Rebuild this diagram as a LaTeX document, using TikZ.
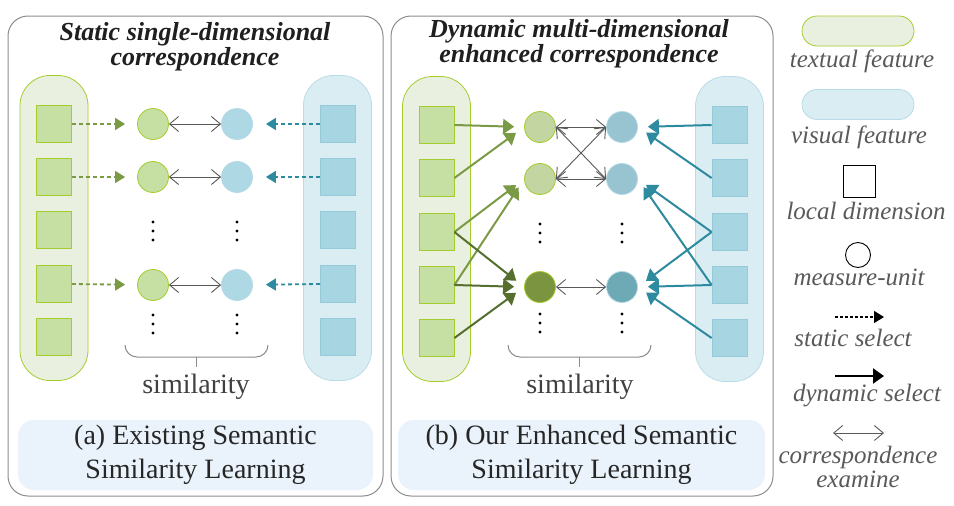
\documentclass[tikz,border=0pt]{standalone}
\usepackage{fontspec}
\setmainfont{LiberationSerif-Regular.ttf}[BoldFont=LiberationSerif-Bold.ttf, ItalicFont=LiberationSerif-Italic.ttf, BoldItalicFont=LiberationSerif-BoldItalic.ttf]
\usetikzlibrary{arrows.meta, positioning}

\definecolor{tcolfill}{HTML}{EAF0E0}
\definecolor{tline}{HTML}{A4CC2C}
\definecolor{tsqfill}{HTML}{C6E0A4}
\definecolor{tunitb}{HTML}{C3D5A0}
\definecolor{tunitdark}{HTML}{7A9440}
\definecolor{tarrc}{HTML}{7A9A45}
\definecolor{tdark}{HTML}{566F2E}
\definecolor{vcolfill}{HTML}{DAEDF3}
\definecolor{vline}{HTML}{B8DDE8}
\definecolor{vsqfill}{HTML}{A7D5E2}
\definecolor{vsqline}{HTML}{94CADA}
\definecolor{vunita}{HTML}{ADD8E4}
\definecolor{vunitb}{HTML}{98C3D0}
\definecolor{vunitdark}{HTML}{6EA9B6}
\definecolor{varrc}{HTML}{2E8A9E}
\definecolor{capfill}{HTML}{EAF3FB}

\newcommand{\dotstack}[2]{\foreach \d in {0,9,18} \fill (#1,#2+\d) circle (1.7pt);}

\begin{document}
\begin{tikzpicture}[x=1pt, y=-1pt,
    panel/.style={draw=black!45, line width=1pt, rounded corners=20pt, minimum width=375pt, minimum height=480pt},
    tcol/.style={draw=tline, fill=tcolfill, line width=0.8pt, rounded corners=30pt, minimum width=68pt, minimum height=305pt},
    vcol/.style={tcol, draw=vline, fill=vcolfill},
    tsq/.style={rectangle, draw=tline, fill=tsqfill, line width=0.8pt, minimum width=35pt, minimum height=37pt},
    vsq/.style={tsq, draw=vsqline, fill=vsqfill},
    tunit/.style={circle, draw=tline, fill=tsqfill, line width=0.8pt, minimum size=31pt, inner sep=0pt},
    vunit/.style={tunit, draw=vsqline!70, fill=vunita},
    sarr/.style={-{Triangle[length=10pt, width=12pt]}, line width=1.8pt, dash pattern=on 4pt off 3pt},
    darr/.style={-{Triangle[length=11pt, width=15pt]}, line width=2pt, shorten >=10pt},
    corr/.style={{Straight Barb[length=9pt, width=15pt]}-{Straight Barb[length=9pt, width=15pt]}, draw=black!65, line width=0.9pt},
    brace/.style={draw=black!45, line width=1pt},
    titletext/.style={font=\fontsize{26}{22}\selectfont\bfseries\itshape, text=black!88, align=center, inner sep=0pt},
    simtext/.style={font=\fontsize{28}{28}\selectfont, text=black!75},
    capbox/.style={fill=capfill, rounded corners=16pt, minimum width=355pt, minimum height=70pt, align=center,
                   font=\fontsize{28}{34}\selectfont, text=black!85},
    legtext/.style={font=\fontsize{25}{24}\selectfont\itshape, text=black!65, align=center, inner sep=0pt}
]
\useasboundingbox (0,0) rectangle (954,506);

\node[panel] (pa) at (195.5,256) {};
\node[panel, minimum width=382pt] (pb) at (582,256) {};

\node[titletext] (tita) at (195,47) {Static single-dimensional\\correspondence};
\node[titletext] (titb) at (579,44) {Dynamic multi-dimensional\\enhanced correspondence};

\node[tcol] (tca) at (54,228) {};
\node[vcol] (vca) at (337.5,228) {};
\node[tcol] (tcb) at (436.5,229) {};
\node[vcol] (vcb) at (729.5,229) {};

\foreach \i/\y in {1/124,2/177,3/230,4/284,5/337} {
  \node[tsq] (ta\i) at (54,\y) {};
  \node[vsq] (va\i) at (338,\y) {};
}
\foreach \i/\y in {1/125,2/178,3/232,4/285,5/338} {
  \node[tsq] (tb\i) at (436.5,\y) {};
  \node[vsq] (vb\i) at (729.5,\y) {};
}

\node[tunit] (tua1) at (153,124) {};
\node[tunit] (tua2) at (153,177) {};
\node[tunit] (tua3) at (153,285) {};
\node[vunit] (vua1) at (237,124) {};
\node[vunit] (vua2) at (237,177) {};
\node[vunit] (vua3) at (237,285) {};

\node[tunit, fill=tunitb] (tub1) at (540,127) {};
\node[tunit, fill=tunitb] (tub2) at (540,179) {};
\node[tunit, fill=tunitdark] (tub3) at (540,287) {};
\node[vunit, fill=vunitb] (vub1) at (622,127) {};
\node[vunit, fill=vunitb] (vub2) at (622,179) {};
\node[vunit, fill=vunitdark] (vub3) at (622,287) {};

\draw[sarr, tarrc, shorten >=12pt] (ta1.east) -- (tua1);
\draw[sarr, tarrc, shorten >=12pt] (ta2.east) -- (tua2);
\draw[sarr, tarrc, shorten >=12pt] (ta4.east) -- (tua3);
\draw[sarr, varrc, shorten >=13pt] (va1.west) -- (vua1);
\draw[sarr, varrc, shorten >=13pt] (va2.west) -- (vua2);
\draw[sarr, varrc, shorten >=13pt] (va4.west) -- (vua3);
\draw[corr] (tua1) -- (vua1);
\draw[corr] (tua2) -- (vua2);
\draw[corr] (tua3) -- (vua3);

\draw[darr, tarrc] (tb1.east) -- (tub1.west);
\draw[darr, tarrc] (tb2.east) -- (tub1.west);
\draw[darr, tarrc] (tb3.east) -- (tub2.west);
\draw[darr, tarrc] (tb4.east) -- (tub2.west);
\draw[darr, tdark] (tb3.east) -- (tub3.west);
\draw[darr, tdark] (tb4.east) -- (tub3.west);
\draw[darr, tdark] (tb5.east) -- (tub3.west);
\draw[darr, varrc] (vb1.west) -- (vub1.east);
\draw[darr, varrc] (vb2.west) -- (vub1.east);
\draw[darr, varrc] (vb3.west) -- (vub2.east);
\draw[darr, varrc] (vb4.west) -- (vub2.east);
\draw[darr, varrc] (vb3.west) -- (vub3.east);
\draw[darr, varrc] (vb4.west) -- (vub3.east);
\draw[darr, varrc] (vb5.west) -- (vub3.east);
\draw[corr] (tub1.east) -- (vub1.west);
\draw[corr] (tub2.east) -- (vub2.west);
\draw[corr] (tub1.east) -- (vub2.west);
\draw[corr] (tub2.east) -- (vub1.west);
\draw[corr] (tub3.east) -- (vub3.west);

\dotstack{153}{222} \dotstack{237}{222} \dotstack{153}{315} \dotstack{237}{315}
\dotstack{540}{224} \dotstack{622}{224} \dotstack{540}{314} \dotstack{622}{314}

\draw[brace, rounded corners=12pt] (125,345) -- (125,357) -- (268,357) -- (268,345);
\draw[brace] (196.5,357) -- (196.5,367);
\draw[brace, rounded corners=12pt] (508,345) -- (508,357) -- (651,357) -- (651,345);
\draw[brace] (579.5,357) -- (579.5,367);
\node[simtext] (sima) at (196,387) {similarity};
\node[simtext] (simb) at (580,387) {similarity};

\node[capbox] (capa) at (195.5,455) {(a) Existing Semantic\\Similarity Learning};
\node[capbox, minimum width=367pt] (capb) at (581.5,455) {(b) Our Enhanced Semantic\\Similarity Learning};

\node[tcol, minimum width=112pt, minimum height=30pt, rounded corners=15pt] (lgt) at (858,31) {};
\node[legtext] (lgtl) at (862,61) {textual feature};
\node[vcol, minimum width=112pt, minimum height=30pt, rounded corners=15pt] (lgv) at (858,104.5) {};
\node[legtext] (lgvl) at (859,137) {visual feature};
\node[draw, fill=white, line width=0.9pt, minimum size=32pt] (lgsq) at (859,181.5) {};
\node[legtext] (lgsql) at (866,211) {local dimension};
\node[circle, draw, line width=0.9pt, minimum size=25pt] (lgcirc) at (858,255) {};
\node[legtext] (lgcl) at (859,277) {measure-unit};
\coordinate (ls1) at (835,317);
\coordinate (ls2) at (884,317);
\draw[sarr, black, line width=1.5pt, dash pattern=on 3pt off 2pt] (ls1) -- (ls2);
\node[legtext] (lgsl) at (853,338) {static select};
\coordinate (ld1) at (835,376);
\coordinate (ld2) at (884,376);
\draw[darr, black, line width=2.2pt, shorten >=0pt] (ld1) -- (ld2);
\node[legtext] (lgdl) at (867,396) {dynamic select};
\coordinate (lc1) at (833,433);
\coordinate (lc2) at (884,433);
\draw[corr] (lc1) -- (lc2);
\node[legtext] (lgel) at (858,467) {correspondence\\examine};
\end{tikzpicture}
\end{document}
